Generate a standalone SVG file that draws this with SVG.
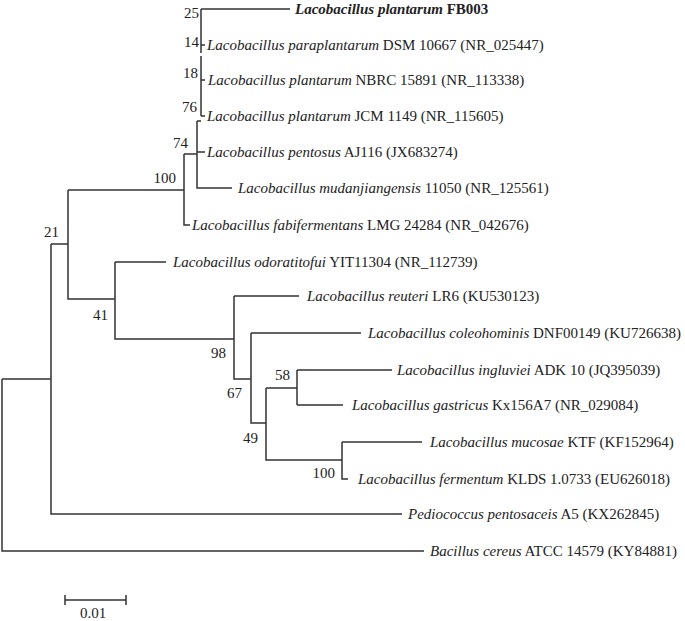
<svg xmlns="http://www.w3.org/2000/svg" width="685" height="621" viewBox="0 0 685 621">
<style>
.b{stroke:#333;stroke-width:1.5;fill:none}
text{font-family:'Liberation Serif','Times New Roman','DejaVu Serif',serif;font-size:15px;fill:#222}
.i{font-style:italic}
.n{text-anchor:end}
</style>
<rect width="685" height="621" fill="#fff"/>
<g id="branches" class="b">
<path d="M2,379V551H424M2,379H51M51,244V514H402M51,244H68M68,190V299H115M68,190H184M184,154V225H190M184,154H197M197,121V188H232M197,121H201M201,9V53M201,9H290M201,45H205M201,56V116M201,80H205M201,116H205M197,152H205"/>
<path d="M115,262V339H234M115,262H166M234,296V379H251M234,296H299M251,333V423H266M251,333H361M266,388V460H342M266,388H297M297,370V405M297,370H392M297,405H343M342,442V479H348M342,442H422"/>
<path d="M65,600H126M65,595V605M126,595V605"/>
</g>
<g id="labels">
<text x="295" y="14" font-weight="bold"><tspan class="i">Lacobacillus plantarum</tspan> FB003</text>
<text x="207" y="50"><tspan class="i">Lacobacillus paraplantarum</tspan> DSM 10667 (NR_025447)</text>
<text x="208" y="85"><tspan class="i">Lacobacillus plantarum</tspan> NBRC 15891 (NR_113338)</text>
<text x="207" y="121"><tspan class="i">Lacobacillus plantarum</tspan> JCM 1149 (NR_115605)</text>
<text x="207" y="157"><tspan class="i">Lacobacillus pentosus</tspan> AJ116 (JX683274)</text>
<text x="238" y="193"><tspan class="i">Lacobacillus mudanjiangensis</tspan> 11050 (NR_125561)</text>
<text x="192" y="230"><tspan class="i">Lacobacillus fabifermentans</tspan> LMG 24284 (NR_042676)</text>
<text x="173" y="267"><tspan class="i">Lacobacillus odoratitofui</tspan> YIT11304 (NR_112739)</text>
<text x="307" y="301"><tspan class="i">Lacobacillus reuteri</tspan> LR6 (KU530123)</text>
<text x="368" y="338"><tspan class="i">Lacobacillus coleohominis</tspan> DNF00149 (KU726638)</text>
<text x="397" y="375"><tspan class="i">Lacobacillus ingluviei</tspan> ADK 10 (JQ395039)</text>
<text x="352" y="410"><tspan class="i">Lacobacillus gastricus</tspan> Kx156A7 (NR_029084)</text>
<text x="430" y="447"><tspan class="i">Lacobacillus mucosae</tspan> KTF (KF152964)</text>
<text x="358" y="484"><tspan class="i">Lacobacillus fermentum</tspan> KLDS 1.0733 (EU626018)</text>
<text x="408" y="519"><tspan class="i">Pediococcus pentosaceis</tspan> A5 (KX262845)</text>
<text x="430" y="556"><tspan class="i">Bacillus cereus</tspan> ATCC 14579 (KY84881)</text>
</g>
<g id="support">
<text class="n" x="199" y="18">25</text>
<text class="n" x="199" y="47">14</text>
<text class="n" x="198" y="78">18</text>
<text class="n" x="197" y="112">76</text>
<text class="n" x="188" y="148">74</text>
<text class="n" x="176" y="183">100</text>
<text class="n" x="59" y="237">21</text>
<text class="n" x="108" y="320">41</text>
<text class="n" x="226" y="358">98</text>
<text class="n" x="242" y="398">67</text>
<text class="n" x="258" y="443">49</text>
<text class="n" x="290" y="380">58</text>
<text class="n" x="335" y="478">100</text>
<text x="80" y="618">0.01</text>
</g>
</svg>
